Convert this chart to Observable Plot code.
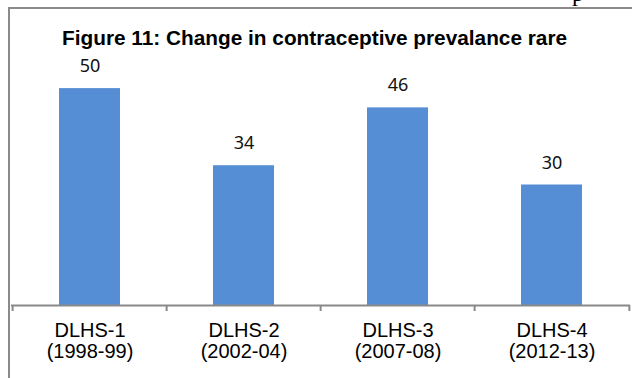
<!DOCTYPE html>
<html>
<head>
<meta charset="utf-8">
<script src="https://cdn.jsdelivr.net/npm/d3@7"></script>
<script src="https://cdn.jsdelivr.net/npm/@observablehq/plot@0.6"></script>
<style>
  body { margin: 0; background: #fff; }
  #wrap { position: relative; width: 632px; height: 378px; overflow: hidden; background: #fff; }
  #wrap svg { position: absolute; left: 0; top: 0; }
  .frame { position: absolute; left: 8px; top: 7px; right: -6px; bottom: -6px;
           border-top: 2px solid #8a8a8a; border-left: 2px solid #8a8a8a; }
  .title { position: absolute; left: 62px; top: 26px; line-height: 20px; white-space: nowrap;
           font: bold 20.8px "Liberation Sans", Arial, sans-serif; color: #000; }
  .frag { position: absolute; left: 572px; top: -20px; line-height: 24px;
          font: 24px "Liberation Serif", serif; color: #000; }
</style>
</head>
<body>
<div id="wrap">
  <div class="frag">p</div>
  <div class="frame"></div>
  <div class="title">Figure 11: Change in contraceptive prevalance rare</div>
</div>
<script>
// Survey rounds and contraceptive prevalence rate (%)
const surveys = ["DLHS-1", "DLHS-2", "DLHS-3", "DLHS-4"];
const periods = ["(1998-99)", "(2002-04)", "(2007-08)", "(2012-13)"];
const prevalence = [50, 34, 46, 30];

// value axis runs from 5 to 55 (no gridlines or tick labels shown)
const yMin = 5, yMax = 55;

const data = surveys.map((s, i) => ({survey: s, period: periods[i], value: prevalence[i]}));

const W = 632, H = 378;
const mTop = 64, mBottom = 73, mLeft = 11, mRight = 2;
const step = (W - mLeft - mRight) / surveys.length;
const pxPerUnit = (H - mTop - mBottom) / (yMax - yMin);
const tickLen = 6;

const chart = Plot.plot({
  width: W,
  height: H,
  marginTop: mTop,
  marginBottom: mBottom,
  marginLeft: mLeft,
  marginRight: mRight,
  style: {background: "transparent", overflow: "visible"},
  x: {domain: surveys, paddingInner: 0.606, paddingOuter: 0.303, axis: null},
  y: {domain: [yMin, yMax], axis: null},
  marks: [
    Plot.barY(data, {x: "survey", y1: yMin, y2: "value", fill: "#558ed5"}),
    // category baseline
    Plot.ruleY([yMin], {stroke: "#898989", strokeWidth: 2}),
    // separators between categories, hanging below the baseline
    Plot.ruleX(surveys, {x: d => d, dx: -step / 2, y1: yMin, y2: yMin - tickLen / pxPerUnit,
                         stroke: "#898989", strokeWidth: 2}),
    Plot.ruleX(surveys.slice(-1), {x: d => d, dx: step / 2, y1: yMin, y2: yMin - tickLen / pxPerUnit,
                                   stroke: "#898989", strokeWidth: 2}),
    // value labels above each bar
    Plot.text(data, {x: "survey", y: "value", text: d => String(d.value),
                     lineAnchor: "bottom", dy: -16.5, fontSize: 18,
                     fontFamily: "'Noto Sans', sans-serif", fill: "#111"}),
    // two-line category labels
    Plot.text(data, {x: "survey", frameAnchor: "bottom", text: d => d.survey + "\n" + d.period,
                     lineAnchor: "top", dy: 17, lineHeight: 1.05, fontSize: 20,
                     fontFamily: "'Liberation Sans', Arial, sans-serif", fill: "#000"})
  ]
});

document.getElementById("wrap").prepend(chart);
</script>
</body>
</html>
